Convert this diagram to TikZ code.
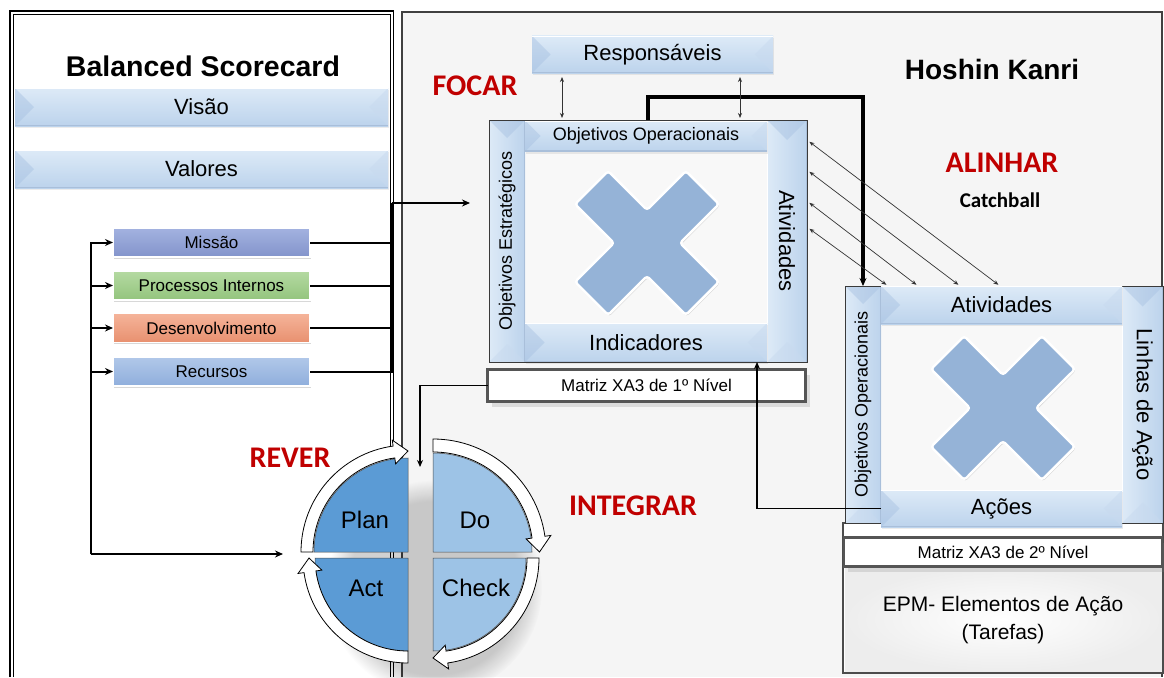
\documentclass[tikz,border=0pt]{standalone}
\usepackage{fontspec}
\usepackage{graphicx}
\setmainfont{Liberation Sans}
\newfontfamily\calfont{Carlito}
\usetikzlibrary{calc,shadows,fadings,arrows.meta}

\definecolor{panelgray}{HTML}{F5F5F5}
\definecolor{innergray}{HTML}{F8F8F8}
\definecolor{barTop}{HTML}{DDEAF7}
\definecolor{barBot}{HTML}{BCD3EC}
\definecolor{bevL}{HTML}{A6C0E1}
\definecolor{bevR}{HTML}{C8DAEF}
\definecolor{bevEdge}{HTML}{A9BFDA}
\definecolor{xblue}{HTML}{95B3D7}
\definecolor{redword}{HTML}{C00000}
\definecolor{pdDark}{HTML}{5B9BD5}
\definecolor{pdLight}{HTML}{9DC3E6}
\definecolor{frameCol}{HTML}{3A3A3A}
\definecolor{boxGray}{HTML}{555555}
\definecolor{missTop}{HTML}{A3B2E0}
\definecolor{missBot}{HTML}{8394CB}
\definecolor{procTop}{HTML}{B5DAA2}
\definecolor{procBot}{HTML}{93C47D}
\definecolor{desTop}{HTML}{F5B49A}
\definecolor{desBot}{HTML}{E8906F}
\definecolor{recTop}{HTML}{B1C8E9}
\definecolor{recBot}{HTML}{8FAEDC}

\newcommand\fsz[1]{\fontsize{#1}{#1}\selectfont}
\newcommand\redword[1]{{\calfont\bfseries\fsz{30}\color{redword}#1}}

% white curved arrow running clockwise round one PDCA quadrant
\newcommand\cyclearrow[4]{% centre, start angle, inner radius, outer radius
  \pgfmathsetmacro\caBase{#2+82}
  \pgfmathsetmacro\caTip{#2+90}
  \pgfmathsetmacro\caMid{(#3+#4)/2}
  \pgfmathsetmacro\caIn{#3-6}
  \pgfmathsetmacro\caOut{#4+6}
  \filldraw[fill=white, draw=black, line width=0.8pt]
    ($(#1)+(#2:#4)$) arc[start angle=#2, end angle=\caBase, radius=#4]
    -- ($(#1)+(\caBase:\caOut)$) -- ($(#1)+(\caTip:\caMid)$)
    -- ($(#1)+(\caBase:\caIn)$) -- ($(#1)+(\caBase:#3)$)
    arc[start angle=\caBase, end angle=#2, radius=#3] -- cycle;
}

% the blue cross in the middle of each matrix
\newcommand\crossmark[1]{%
  \filldraw[shift={(#1)}, fill=xblue, draw=white, line width=2.4pt, rounded corners=3pt,
    drop shadow={opacity=0.3, shadow xshift=1pt, shadow yshift=-1.5pt}]
    (0,-33) -- (38.8,-72) -- (72,-38.8) -- (33,0) -- (72,38.8) -- (38.8,72)
    -- (0,33) -- (-38.8,72) -- (-72,38.8) -- (-33,0) -- (-72,-38.8) -- (-38.8,-72) -- cycle;
}

\tikzset{
  every node/.style={inner sep=0pt, outer sep=0pt},
  bevelH/.style={rectangle, top color=barTop, bottom color=barBot, draw=none,
    drop shadow={opacity=0.15, shadow xshift=1pt, shadow yshift=-2pt},
    path picture={
      \fill[bevL, opacity=0.45] let \p1=(path picture bounding box.north west), \p2=(path picture bounding box.south east), \n1={(\y1-\y2)/2} in (\x1,\y1) -- (\x1+\n1,\y1-\n1) -- (\x1,\y2) -- cycle;
      \fill[bevR, opacity=0.5] let \p1=(path picture bounding box.north west), \p2=(path picture bounding box.south east), \n1={(\y1-\y2)/2} in (\x2,\y1) -- (\x2-\n1,\y1-\n1) -- (\x2,\y2) -- cycle;
      \draw[white, line width=1.2pt] let \p1=(path picture bounding box.north west), \p2=(path picture bounding box.south east) in (\x1,\y1-0.6pt) -- (\x2,\y1-0.6pt);
      \draw[bevEdge, line width=1.2pt] let \p1=(path picture bounding box.north west), \p2=(path picture bounding box.south east) in (\x1,\y2+0.6pt) -- (\x2,\y2+0.6pt);
    }},
  bevelV/.style={rectangle, left color=barTop, right color=barBot, draw=none,
    path picture={
      \fill[bevL, opacity=0.45] let \p1=(path picture bounding box.north west), \p2=(path picture bounding box.south east), \n1={(\x2-\x1)/2} in (\x1,\y1) -- (\x1+\n1,\y1-\n1) -- (\x2,\y1) -- cycle;
      \fill[bevR, opacity=0.5] let \p1=(path picture bounding box.north west), \p2=(path picture bounding box.south east), \n1={(\x2-\x1)/2} in (\x1,\y2) -- (\x1+\n1,\y2+\n1) -- (\x2,\y2) -- cycle;
      \draw[white, line width=1.2pt] let \p1=(path picture bounding box.north west), \p2=(path picture bounding box.south east) in (\x1+0.6pt,\y1) -- (\x1+0.6pt,\y2);
      \draw[bevEdge, line width=1.2pt] let \p1=(path picture bounding box.north west), \p2=(path picture bounding box.south east) in (\x2-0.6pt,\y1) -- (\x2-0.6pt,\y2);
    }},
  cbox/.style={rectangle, draw=white, line width=1.8pt, minimum width=197pt, minimum height=29pt,
    drop shadow={opacity=0.3, shadow xshift=1pt, shadow yshift=-1.5pt},
    font=\fsz{17}},
  mbox/.style={rectangle, draw=boxGray, line width=2.6pt, fill=white,
    drop shadow={opacity=0.22, shadow xshift=4pt, shadow yshift=-5pt}, font=\fsz{17}},
  mframe/.style={rectangle, fill=innergray, draw=none},
  conn/.style={draw=black, line width=2pt, -{Stealth[length=8pt,width=7pt]}},
  thinconn/.style={draw=black, line width=1.6pt, -{Stealth[length=7pt,width=6pt]}},
  plain/.style={draw=black, line width=2pt},
  dbl/.style={draw=black!80, line width=0.7pt, {Stealth[length=5pt,width=4pt]}-{Stealth[length=5pt,width=4pt]}},
}

\begin{document}
\begin{tikzpicture}[x=1pt,y=-1pt]
\useasboundingbox (0,0) rectangle (1164,677);
\fill[white] (0,0) rectangle (1164,677);

% Hoshin Kanri panel
\fill[panelgray] (401,12) rectangle (1161,677);
\draw[line width=2pt, draw=black!75] (401.5,677) -- (401.5,12) -- (1161.5,12) -- (1161.5,677);

% Balanced Scorecard panel (double frame)
\draw[line width=1.6pt] (10,677) -- (10,11) -- (393.5,11) -- (393.5,677);
\draw[line width=0.8pt] (13.5,677) -- (13.5,14.5) -- (390.3,14.5) -- (390.3,677);

% titles
\node[anchor=base] (bsc) at (203,77) {\fsz{28.5}\bfseries Balanced Scorecard};
\node[anchor=base] (hk) at (992,80) {\fsz{28}\bfseries Hoshin Kanri};

% Balanced Scorecard elements
\node[bevelH, minimum width=373pt, minimum height=38pt] (visao) at (201.5,107) {\fsz{22}Visão};
\node[bevelH, minimum width=373pt, minimum height=38pt] (valores) at (201.5,169) {\fsz{22}Valores};

\node[cbox, top color=missTop, bottom color=missBot] (missao) at (211.5,242.5) {Missão};
\node[cbox, top color=procTop, bottom color=procBot] (procint) at (211.5,285.5) {Processos Internos};
\node[cbox, top color=desTop, bottom color=desBot] (desenv) at (211.5,328) {Desenvolvimento};
\node[cbox, top color=recTop, bottom color=recBot] (recursos) at (211.5,371.5) {Recursos};

% process words
\node[anchor=base] (focar) at (475,95) {\redword{FOCAR}};
\node[anchor=base] (alinhar) at (1002,172) {\redword{ALINHAR}};
\node[anchor=base] (catch) at (1000,207) {\calfont\bfseries\fsz{21}Catchball};
\node[anchor=base] (rever) at (290,467) {\redword{REVER}};
\node[anchor=base] (integrar) at (633,515) {\redword{INTEGRAR}};

% responsibles
\node[bevelH, minimum width=241pt, minimum height=37pt] (resp) at (652.5,54.5) {\fsz{22}Responsáveis};

% first level XA3 matrix
\node[mframe, minimum width=318pt, minimum height=242pt] (m1) at (648,241) {};
\node[bevelV, minimum width=36pt, minimum height=242pt] (m1l) at (507,241)
  {\rotatebox{90}{\fsz{18}Objetivos Estratégicos}};
\node[bevelV, minimum width=40pt, minimum height=242pt] (m1r) at (787,241)
  {\rotatebox{-90}{\fsz{22}Atividades}};
\node[bevelH, minimum width=242pt, minimum height=31pt] (m1t) at (646,136) {\fsz{18}Objetivos Operacionais};
\node[bevelH, minimum width=242pt, minimum height=39pt] (m1b) at (646,342.5) {\fsz{22}Indicadores};
\draw[frameCol, line width=1pt] (m1.north west) rectangle (m1.south east);
\coordinate (x1c) at (647,243);
\crossmark{x1c}
\node[mbox, minimum width=318pt, minimum height=32pt] (matriz1) at (646.5,385.5) {Matriz XA3 de 1º Nível};

% second level XA3 matrix with its action elements
\node[rectangle, draw=black!70, line width=1.5pt, fill=white, minimum width=320pt, minimum height=150pt] (epm) at (1003,598) {};
\shade[inner color=white, outer color=black!7] (845,567) rectangle (1161.5,671.5);
\node[mframe, minimum width=318pt, minimum height=237pt] (m2) at (1004,404.5) {};
\node[bevelV, minimum width=36pt, minimum height=237pt] (m2l) at (863,404.5)
  {\rotatebox{90}{\fsz{18}Objetivos Operacionais}};
\node[bevelV, minimum width=41pt, minimum height=237pt] (m2r) at (1142.5,404.5)
  {\rotatebox{-90}{\fsz{22}Linhas de Ação}};
\draw[frameCol, line width=1pt] (m2.north west) rectangle (m2.south east);
\node[bevelH, minimum width=241pt, minimum height=38pt] (m2t) at (1001.5,305) {\fsz{22}Atividades};
\node[bevelH, minimum width=241pt, minimum height=37pt] (acoes) at (1001.5,508.5) {\fsz{22}Ações};
\coordinate (x2c) at (1003,408);
\crossmark{x2c}
\node[mbox, minimum width=318pt, minimum height=29pt] (matriz2) at (1003,552) {Matriz XA3 de 2º Nível};
\node[align=center, font=\fontsize{21}{28}\selectfont] (epmtxt) at (1003,620) {EPM- Elementos de Ação\\(Tarefas)};

% PDCA cycle
\coordinate (cP) at (408,552);
\coordinate (cD) at (433,552);
\coordinate (cA) at (408,558);
\coordinate (cC) at (433,558);
\fill[black, opacity=0.18, path fading=circle with fuzzy edge 20 percent] (434,588) circle (108);
\filldraw[fill=pdDark, draw=black!70, line width=0.5pt] (cP) -- ++(180:94) arc[start angle=180, end angle=270, radius=94] -- cycle;
\filldraw[fill=pdLight, draw=black!70, line width=0.5pt] (cD) -- ++(270:99) arc[start angle=270, end angle=360, radius=99] -- cycle;
\filldraw[fill=pdLight, draw=black!70, line width=0.5pt] (cC) -- ++(0:93) arc[start angle=0, end angle=90, radius=93] -- cycle;
\filldraw[fill=pdDark, draw=black!70, line width=0.5pt] (cA) -- ++(90:93) arc[start angle=90, end angle=180, radius=93] -- cycle;
\cyclearrow{cP}{180}{95}{107}
\cyclearrow{cD}{270}{100}{113}
\cyclearrow{cC}{0}{94}{106}
\cyclearrow{cA}{90}{93}{105}
\node (plan) at (365,520) {\fsz{24}Plan};
\node (do) at (475,520) {\fsz{24}Do};
\node (act) at (366,588) {\fsz{24}Act};
\node (check) at (476,588) {\fsz{24}Check};

% connectors: PDCA feeds the four perspectives
\coordinate (busL) at (91,554);
\coordinate (pdcaIn) at (283,554);
\draw[conn] (busL) -- (pdcaIn);
\foreach \b in {missao,procint,desenv,recursos} \draw[conn] (busL) |- (\b.west);

% perspectives feed the first level matrix
\coordinate (busR) at (391.5,203);
\foreach \b in {missao,procint,desenv,recursos} \draw[plain] (\b.east) -| (busR);
\draw[conn, shorten >=19pt] (busR) -- (busR -| m1.west);

% deployment from first to second level
\draw[conn, line width=3.2pt] (m1.north) -- ++(0,-23) -| (m2l.north);

% responsibles
\draw[dbl, shorten <=4pt, shorten >=2pt] (resp.south -| 562,0) -- (m1.north -| 562,0);
\draw[dbl, shorten <=4pt, shorten >=2pt] (resp.south -| 740,0) -- (m1.north -| 740,0);

% catchball
\foreach \ya/\xb in {140/1000, 170/960, 201/918, 227/888}
  \draw[dbl, shorten <=3pt, shorten >=2pt] (m1.east |- 0,\ya) -- (m2.north -| \xb,0);

% review and integration loops
\coordinate (pdcaTop) at (420,467);
\draw[thinconn] (matriz1.west) -| (pdcaTop);
\draw[thinconn] (acoes.west) -| (m1.south -| 757,0);
\end{tikzpicture}
\end{document}
